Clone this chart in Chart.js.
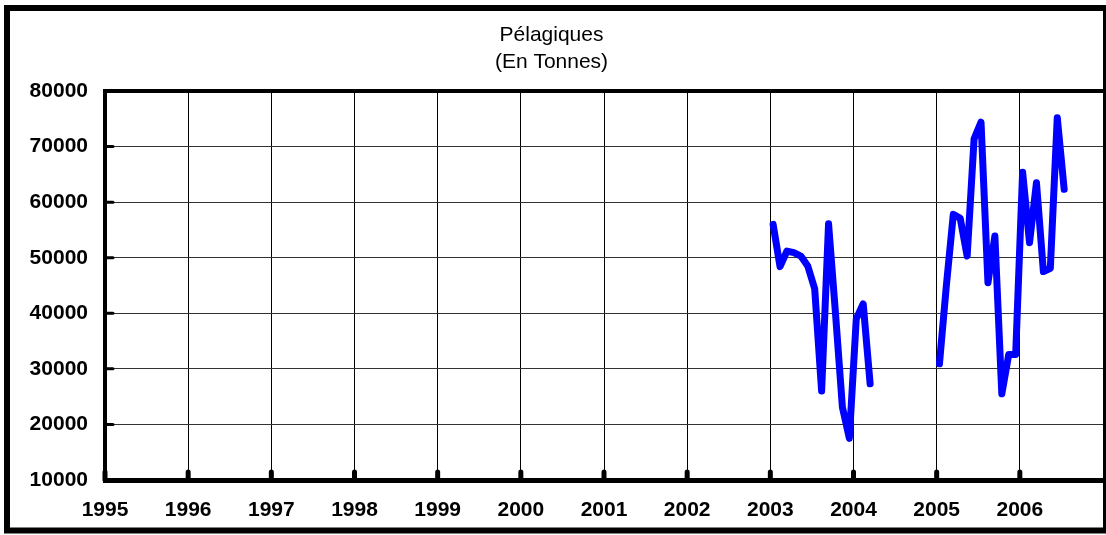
<!DOCTYPE html>
<html>
<head>
<meta charset="utf-8">
<script src="https://cdn.jsdelivr.net/npm/chart.js@4.4.0/dist/chart.umd.min.js"></script>
<style>
  body { margin: 0; background: #fff; }
  canvas { display: block; }
</style>
</head>
<body>
<canvas id="myChart" width="1106" height="535"></canvas>
<script>
// monthly catches, Jan 2003 -> Jul 2006 (no data Apr-Dec 2004)
const months = [
  '2003-01', '2003-02', '2003-03', '2003-04', '2003-05', '2003-06', '2003-07', '2003-08',
  '2003-09', '2003-10', '2003-11', '2003-12', '2004-01', '2004-02', '2004-03',
  '2004-04', '2004-05', '2004-06', '2004-07', '2004-08', '2004-09', '2004-10', '2004-11', '2004-12',
  '2005-01', '2005-02', '2005-03', '2005-04', '2005-05', '2005-06', '2005-07', '2005-08',
  '2005-09', '2005-10', '2005-11', '2005-12', '2006-01', '2006-02', '2006-03', '2006-04',
  '2006-05', '2006-06', '2006-07'
];
const tonnes = [
  56000, 48400, 51200, 50900, 50300, 48500, 44400, 26000,
  56100, 40000, 23100, 17500, 39000, 41700, 27300,
  null, null, null, null, null, null, null, null, null,
  30900, 45000, 57800, 57100, 50300, 71400, 74400, 45500,
  53900, 25500, 32600, 32600, 65400, 52700, 63500, 47500,
  48100, 75200, 62300
];
const years = [1995, 1996, 1997, 1998, 1999, 2000, 2001, 2002, 2003, 2004, 2005, 2006];
const yTicks = [10000, 20000, 30000, 40000, 50000, 60000, 70000, 80000];

const points = months.map((m, i) => {
  const [y, mo] = m.split('-').map(Number);
  return { x: y + (mo - 0.6) / 12, y: tonnes[i] };
});

const font = "'Liberation Sans', Arial, sans-serif";

const frame = {
  id: 'frame',
  afterDraw(chart) {
    const c = chart.ctx;
    const a = chart.chartArea;
    const xs = chart.scales.x, ys = chart.scales.y;
    c.save();
    c.strokeStyle = '#000';
    c.lineCap = 'round';
    // inner tick marks on x axis
    c.lineWidth = 5;
    years.forEach(yr => {
      const px = xs.getPixelForValue(yr);
      c.beginPath();
      c.moveTo(px, a.bottom);
      c.lineTo(px, a.bottom - 8);
      c.stroke();
    });
    // inner tick marks on y axis
    c.lineWidth = 3;
    yTicks.forEach(v => {
      const py = ys.getPixelForValue(v);
      c.beginPath();
      c.moveTo(a.left, py);
      c.lineTo(a.left + 8, py);
      c.stroke();
    });
    // top border of plot
    c.lineCap = 'butt';
    c.lineWidth = 4;
    c.beginPath();
    c.moveTo(a.left - 2, a.top);
    c.lineTo(a.right, a.top);
    c.stroke();
    // outer frame
    c.lineWidth = 6;
    c.strokeRect(7, 8, 1099, 522.5);
    c.restore();
  }
};

new Chart(document.getElementById('myChart'), {
  type: 'line',
  data: {
    datasets: [{
      label: 'Pélagiques',
      data: points,
      borderColor: '#0000ff',
      borderWidth: 7,
      borderJoinStyle: 'round',
      borderCapStyle: 'round',
      pointRadius: 0,
      tension: 0,
      spanGaps: false
    }]
  },
  options: {
    responsive: false,
    animation: false,
    layout: { padding: { left: 0, right: 3, top: 0, bottom: 0 } },
    plugins: {
      legend: { display: false },
      tooltip: { enabled: false },
      title: {
        display: true,
        text: ['Pélagiques', '(En Tonnes)'],
        color: '#000',
        font: { family: font, size: 21, weight: 'normal', lineHeight: 27 / 21 },
        padding: { top: 22, bottom: 15 }
      }
    },
    scales: {
      x: {
        type: 'linear',
        min: 1995,
        max: 2007,
        afterFit: s => { s.height = 55; s.paddingRight = 0; s.paddingLeft = 0; },
        afterBuildTicks: s => { s.ticks = years.concat([2007]).map(v => ({ value: v })); },
        ticks: {
          autoSkip: false,
          maxRotation: 0,
          padding: 18,
          color: '#000',
          font: { family: font, size: 21, weight: 'bold' },
          callback: v => (v === 2007 ? '' : String(v))
        },
        grid: { color: '#000', lineWidth: 1, drawTicks: false },
        border: { color: '#000', width: 5 }
      },
      y: {
        min: 10000,
        max: 80000,
        afterFit: s => { s.width = 105; },
        afterBuildTicks: s => { s.ticks = yTicks.map(v => ({ value: v })); },
        ticks: {
          padding: 17,
          color: '#000',
          font: { family: font, size: 21, weight: 'bold' },
          callback: v => String(v)
        },
        grid: { color: '#333', lineWidth: 1, drawTicks: false },
        border: { color: '#000', width: 4 }
      }
    }
  },
  plugins: [frame]
});
</script>
</body>
</html>
